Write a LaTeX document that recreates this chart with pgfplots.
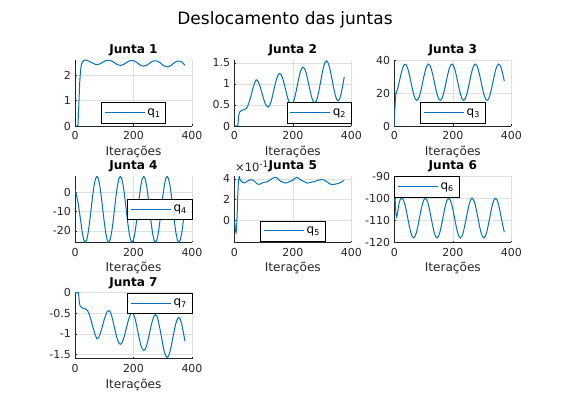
\documentclass[border=0pt]{standalone}
\usepackage{fontspec}
\setmainfont{DejaVu Sans}
\usepackage{pgfplots}
\pgfplotsset{compat=1.18}
\definecolor{mblue}{RGB}{0,114,189}
\definecolor{axcol}{RGB}{38,38,38}
\definecolor{gridcol}{RGB}{223,223,223}
\pgfplotsset{
 jstyle/.style={
   scale only axis, width=117pt, height=66pt, anchor=south west,
   xmin=0, xmax=400, xtick={0,200,400},
   axis lines*=left, axis line style={draw=axcol, line width=0.5pt, -},
   grid=major, major grid style={draw=gridcol, line width=0.5pt},
   tick align=inside, major tick length=1.5pt, tick style={draw=axcol, line width=0.5pt},
   ticklabel style={font=\fontsize{11}{11}\selectfont, text=axcol},
   xticklabel style={inner sep=0pt, yshift=-5.5pt},
   yticklabel style={inner sep=0pt, xshift=-4pt},
   /pgf/number format/assume math mode=true,
   xlabel={Iterações},
   xlabel style={at={(rel axis cs:0.5,0)}, anchor=north, inner sep=0pt, yshift=-20pt, font=\fontsize{12.1}{12}\selectfont, text=axcol},
   every axis title shift=0pt,
   title style={at={(rel axis cs:0.5,1)}, anchor=base, inner sep=0pt, yshift=6.7pt, font=\bfseries\fontsize{12.1}{12}\selectfont},
   legend style={draw=black, line width=0.5pt, fill=white, font=\fontsize{12}{12}\selectfont, inner xsep=3pt, inner ysep=4pt},
   legend cell align=left,
   legend image code/.code={\draw[#1, line width=1pt] (0pt,0pt) -- (40pt,0pt);},
   cycle list={{mblue, solid, line width=1pt}},
   every axis plot/.append style={line width=1pt},
   no markers,
 }
}
\begin{document}
\begin{tikzpicture}
\useasboundingbox (0pt,0pt) rectangle (570pt,413pt);
\node[font=\fontsize{17}{17}\selectfont, anchor=base, inner sep=0pt] at (285pt,388pt) {Deslocamento das juntas};

% Junta 1
\begin{axis}[jstyle, at={(75pt,287pt)}, title={Junta 1}, ymin=0, ymax=2.6, ytick={0,1,2},
  legend style={at={(0.5,0.045)}, anchor=south}]
\addplot coordinates {(0,0)(10,0)(13,0.8)(16,1.7)(19,2.2)(22,2.42)(26,2.53)(30,2.58)
(35,2.60)(40,2.59)(45,2.57)(50,2.54)(55,2.51)(60,2.48)(65,2.45)(70,2.43)(75,2.42)(80,2.43)(85,2.45)(90,2.48)(95,2.51)(100,2.54)(105,2.57)(110,2.59)
(115,2.59)(120,2.58)(125,2.56)(130,2.53)(135,2.49)(140,2.45)(145,2.42)(150,2.40)(155,2.39)(160,2.40)(165,2.42)(170,2.45)(175,2.49)(180,2.53)(185,2.56)(190,2.58)
(195,2.58)(200,2.57)(205,2.55)(210,2.51)(215,2.47)(220,2.43)(225,2.39)(230,2.37)(235,2.36)(240,2.37)(245,2.39)(250,2.43)(255,2.47)(260,2.51)(265,2.55)(270,2.57)
(275,2.57)(280,2.56)(285,2.53)(290,2.50)(295,2.45)(300,2.40)(305,2.37)(310,2.34)(315,2.33)(320,2.34)(325,2.37)(330,2.40)(335,2.45)(340,2.50)(345,2.53)(350,2.56)
(355,2.56)(360,2.55)(365,2.52)(370,2.47)(376,2.39)};
\addlegendentry{q\textsubscript{1}\hspace{6pt}}
\end{axis}

% Junta 2
\begin{axis}[jstyle, at={(234.3pt,287pt)}, title={Junta 2}, ymin=0, ymax=1.57, ytick={0,0.5,1,1.5},
  legend style={at={(1,0.045)}, anchor=south east}]
\addplot coordinates {(0,0)(12,0)(15,0.25)(18,0.33)(25,0.37)(35,0.39)(40,0.41)(45,0.46)(50,0.55)(55,0.67)(60,0.80)(65,0.93)(70,1.03)(75,1.1)(80,1.075)(85,1.005)(90,0.90)(95,0.775)(100,0.65)(105,0.545)(110,0.475)(115,0.45)(120,0.48)(125,0.567)(130,0.697)(135,0.85)(140,1.003)(145,1.133)(150,1.22)(155,1.25)(160,1.222)(165,1.14)(170,1.019)(175,0.875)(180,0.731)(185,0.61)(190,0.528)(195,0.5)(200,0.534)(205,0.632)(210,0.778)(215,0.95)(220,1.122)(225,1.268)(230,1.366)(235,1.4)(240,1.368)(245,1.275)(250,1.138)(255,0.975)(260,0.812)(265,0.675)(270,0.582)(275,0.55)(280,0.588)(285,0.696)(290,0.86)(295,1.05)(300,1.24)(305,1.404)(310,1.512)(315,1.55)(320,1.514)(325,1.411)(330,1.257)(335,1.075)(340,0.893)(345,0.739)(350,0.636)(355,0.6)(360,0.642)(365,0.761)(370,0.94)(376,1.17)};
\addlegendentry{q\textsubscript{2}\hspace{6pt}}
\end{axis}

% Junta 3
\begin{axis}[jstyle, at={(394.3pt,287pt)}, title={Junta 3}, ymin=0, ymax=40, ytick={0,20,40},
  legend style={at={(0.5,0.045)}, anchor=south}]
\addplot coordinates {(0,0)(1,8)(5,19)(7,20.5)(12,23)(17,26.8)(22,30.7)(27,34.3)(32,36.7)(37,37.5)
(42,36.7)(47,34.3)(52,30.7)(57,26.5)(62,22.3)(67,18.7)(72,16.3)(77,15.5)(82,16.3)(87,18.7)(92,22.3)(97,26.5)(102,30.7)(107,34.3)(112,36.7)(117,37.5)
(122,36.7)(127,34.3)(132,30.7)(137,26.5)(142,22.3)(147,18.7)(152,16.3)(157,15.5)(162,16.3)(167,18.7)(172,22.3)(177,26.5)(182,30.7)(187,34.3)(192,36.7)(197,37.5)
(202,36.7)(207,34.3)(212,30.7)(217,26.5)(222,22.3)(227,18.7)(232,16.3)(237,15.5)(242,16.3)(247,18.7)(252,22.3)(257,26.5)(262,30.7)(267,34.3)(272,36.7)(277,37.5)
(282,36.7)(287,34.3)(292,30.7)(297,26.5)(302,22.3)(307,18.7)(312,16.3)(317,15.5)(322,16.3)(327,18.7)(332,22.3)(337,26.5)(342,30.7)(347,34.3)(352,36.7)(357,37.5)
(362,36.7)(367,34.3)(372,30.7)(376,27.3)};
\addlegendentry{q\textsubscript{3}\hspace{6pt}}
\end{axis}

% Junta 4
\begin{axis}[jstyle, at={(75pt,170.7pt)}, title={Junta 4}, ymin=-25.9, ymax=8.3, ytick={-20,-10,0},
  legend style={at={(1,0.5)}, anchor=east}]
\addplot coordinates {(0,1)(5,-1.5)(10,-5)(15,-10)(20,-15.4)(25,-21)(30,-24.7)(35,-25.9)
(40,-24.7)(45,-21)(50,-15.4)(55,-8.85)(60,-2.3)(65,3.3)(70,7)(75,8.3)(80,7)(85,3.3)(90,-2.3)(95,-8.85)(100,-15.4)(105,-21)(110,-24.7)(115,-25.9)
(120,-24.7)(125,-21)(130,-15.4)(135,-8.85)(140,-2.3)(145,3.3)(150,7)(155,8.3)(160,7)(165,3.3)(170,-2.3)(175,-8.85)(180,-15.4)(185,-21)(190,-24.7)(195,-25.9)
(200,-24.7)(205,-21)(210,-15.4)(215,-8.85)(220,-2.3)(225,3.3)(230,7)(235,8.3)(240,7)(245,3.3)(250,-2.3)(255,-8.85)(260,-15.4)(265,-21)(270,-24.7)(275,-25.9)
(280,-24.7)(285,-21)(290,-15.4)(295,-8.85)(300,-2.3)(305,3.3)(310,7)(315,8.3)(320,7)(325,3.3)(330,-2.3)(335,-8.85)(340,-15.4)(345,-21)(350,-24.7)(355,-25.9)
(360,-24.7)(365,-21)(370,-15.4)(376,-7.5)};
\addlegendentry{q\textsubscript{4}\hspace{6pt}}
\end{axis}

% Junta 5
\begin{axis}[jstyle, at={(234.3pt,170.7pt)}, title={Junta 5}, ymin=-0.21, ymax=0.425, ytick={0,0.2,0.4}, yticklabels={0,2,4},
  legend style={at={(0.5,0.015)}, anchor=south}]
\addplot coordinates {(0,0)(2,-0.03)(4,-0.1)(6,-0.12)(8,-0.07)(10,0.08)(12,0.25)(14,0.38)(17,0.425)(20,0.39)(25,0.375)(30,0.365)(35,0.362)(40,0.37)(45,0.378)(50,0.385)(55,0.39)(60,0.392)(65,0.385)(70,0.375)(75,0.36)(80,0.35)(85,0.348)(90,0.352)(95,0.36)(100,0.365)(105,0.37)(110,0.37)(115,0.375)(120,0.385)(125,0.395)(130,0.405)(135,0.41)(140,0.415)(145,0.412)(150,0.398)(155,0.385)(160,0.375)(165,0.37)(170,0.365)(175,0.36)(180,0.363)(185,0.37)(190,0.375)(195,0.38)(200,0.39)(205,0.4)(210,0.41)(215,0.415)(220,0.405)(225,0.395)(230,0.385)(235,0.378)(240,0.372)(245,0.365)(250,0.36)(255,0.362)(260,0.365)(265,0.37)(270,0.372)(275,0.375)(280,0.38)(285,0.385)(290,0.39)(295,0.392)(300,0.393)(305,0.39)(310,0.385)(315,0.375)(320,0.365)(325,0.355)(330,0.348)(335,0.345)(340,0.347)(345,0.35)(350,0.352)(355,0.355)(360,0.36)(365,0.37)(370,0.378)(376,0.385)};
\addlegendentry{q\textsubscript{5}\hspace{6pt}}
\end{axis}
\node[anchor=base west, inner sep=0pt, font=\fontsize{11.5}{11.5}\selectfont, text=axcol] at (235pt,241.3pt) {×10\raisebox{4.5pt}{\fontsize{9}{9}\selectfont -1}};

% Junta 6
\begin{axis}[jstyle, at={(394.3pt,170.7pt)}, title={Junta 6}, ymin=-120, ymax=-90, ytick={-120,-110,-100,-90},
  legend style={at={(0,1)}, anchor=north west}]
\addplot coordinates {(0,-90)(2,-98)(4,-104)(6,-107.5)(8,-108.5)(10,-107.5)(13,-105)(16,-102.5)(19,-101)(22,-100.2)(26,-100)
(31,-100.7)(36,-102.6)(41,-105.6)(46,-109)(51,-112.4)(56,-115.4)(61,-117.3)(66,-118)(71,-117.3)(76,-115.4)(81,-112.4)(86,-109)(91,-105.6)(96,-102.6)(101,-100.7)(106,-100)
(111,-100.7)(116,-102.6)(121,-105.6)(126,-109)(131,-112.4)(136,-115.4)(141,-117.3)(146,-118)(151,-117.3)(156,-115.4)(161,-112.4)(166,-109)(171,-105.6)(176,-102.6)(181,-100.7)(186,-100)
(191,-100.7)(196,-102.6)(201,-105.6)(206,-109)(211,-112.4)(216,-115.4)(221,-117.3)(226,-118)(231,-117.3)(236,-115.4)(241,-112.4)(246,-109)(251,-105.6)(256,-102.6)(261,-100.7)(266,-100)
(271,-100.7)(276,-102.6)(281,-105.6)(286,-109)(291,-112.4)(296,-115.4)(301,-117.3)(306,-118)(311,-117.3)(316,-115.4)(321,-112.4)(326,-109)(331,-105.6)(336,-102.6)(341,-100.7)(346,-100)
(351,-100.7)(356,-102.6)(361,-105.6)(366,-109)(371,-112.4)(376,-115.4)};
\addlegendentry{q\textsubscript{6}\hspace{6pt}}
\end{axis}

% Junta 7
\begin{axis}[jstyle, at={(75pt,54.3pt)}, title={Junta 7}, ymin=-1.6, ymax=0, ytick={-1.5,-1,-0.5,0},
  legend style={at={(1,1)}, anchor=north east}]
\addplot coordinates {(0,0)(12,0)(15,-0.25)(18,-0.33)(25,-0.37)(35,-0.39)(40,-0.41)(45,-0.46)(50,-0.55)(55,-0.67)(60,-0.80)(65,-0.93)(70,-1.04)(75,-1.12)(80,-1.095)(85,-1.02)(90,-0.91)(95,-0.78)(100,-0.65)(105,-0.54)(110,-0.46)(115,-0.43)(120,-0.46)(125,-0.55)(130,-0.69)(135,-0.85)(140,-1.003)(145,-1.133)(150,-1.22)(155,-1.25)(160,-1.222)(165,-1.14)(170,-1.019)(175,-0.875)(180,-0.731)(185,-0.61)(190,-0.52)(195,-0.48)(200,-0.515)(205,-0.62)(210,-0.77)(215,-0.95)(220,-1.122)(225,-1.268)(230,-1.366)(235,-1.4)(240,-1.368)(245,-1.275)(250,-1.138)(255,-0.975)(260,-0.812)(265,-0.67)(270,-0.57)(275,-0.53)(280,-0.57)(285,-0.69)(290,-0.86)(295,-1.05)(300,-1.25)(305,-1.42)(310,-1.53)(315,-1.57)(320,-1.535)(325,-1.42)(330,-1.26)(335,-1.075)(340,-0.893)(345,-0.739)(350,-0.636)(355,-0.6)(360,-0.642)(365,-0.761)(370,-0.94)(376,-1.18)};
\addlegendentry{q\textsubscript{7}\hspace{6pt}}
\end{axis}
\end{tikzpicture}
\end{document}
